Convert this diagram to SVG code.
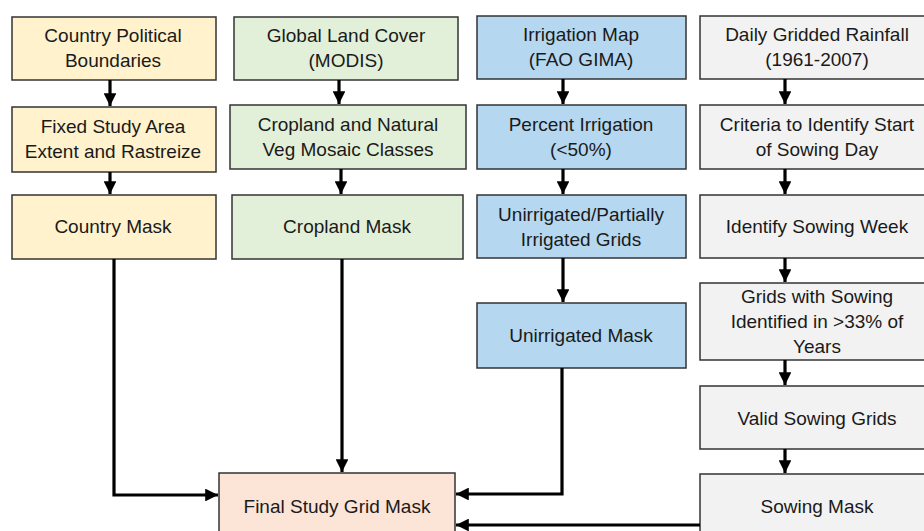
<svg xmlns="http://www.w3.org/2000/svg" width="924" height="531" viewBox="0 0 924 531">
<defs>
<style>
.box{stroke:#333;stroke-width:1.5}
.y{fill:#FFF2CC}.g{fill:#E2F0D9}.b{fill:#B5D7EF}.w{fill:#F2F2F2}.o{fill:#FCE4D6}
text{font-family:"Liberation Sans",Arial,sans-serif;font-size:19px;fill:#1a1a1a;text-anchor:middle}
.c{fill:none;stroke:#000;stroke-width:3.2}
</style>
<marker id="ah" viewBox="0 0 10 10" refX="10" refY="5" markerWidth="4" markerHeight="4" markerUnits="strokeWidth" orient="auto">
<path d="M0,0 L10,5 L0,10 z" fill="#000"/>
</marker>
</defs>
<rect width="924" height="531" fill="#fff"/>
<g id="n1"><rect class="box y" x="12" y="17" width="204" height="63"/><text x="113" y="42">Country Political</text><text x="113" y="67">Boundaries</text></g>
<g id="n2"><rect class="box y" x="12" y="107" width="204" height="65"/><text x="113" y="133">Fixed Study Area</text><text x="113" y="158">Extent and Rastreize</text></g>
<g id="n3"><rect class="box y" x="12" y="195" width="204" height="64"/><text x="113" y="233">Country Mask</text></g>
<g id="n4"><rect class="box g" x="234" y="17" width="224" height="63"/><text x="346" y="42">Global Land Cover</text><text x="346" y="67">(MODIS)</text></g>
<g id="n5"><rect class="box g" x="230" y="105" width="236" height="64"/><text x="348" y="131">Cropland and Natural</text><text x="348" y="156">Veg Mosaic Classes</text></g>
<g id="n6"><rect class="box g" x="232" y="195" width="231" height="64"/><text x="347" y="233">Cropland Mask</text></g>
<g id="n7"><rect class="box b" x="477" y="16" width="209" height="63"/><text x="581" y="41">Irrigation Map</text><text x="581" y="66">(FAO GIMA)</text></g>
<g id="n8"><rect class="box b" x="477" y="105" width="209" height="64"/><text x="581" y="131">Percent Irrigation</text><text x="581" y="156">(&lt;50%)</text></g>
<g id="n9"><rect class="box b" x="477" y="195" width="209" height="63"/><text x="581" y="221">Unirrigated/Partially</text><text x="581" y="246">Irrigated Grids</text></g>
<g id="n10"><rect class="box b" x="477" y="303" width="209" height="65"/><text x="581" y="342">Unirrigated Mask</text></g>
<g id="n11"><rect class="box w" x="700" y="16" width="240" height="63"/><text x="817" y="41">Daily Gridded Rainfall</text><text x="817" y="66">(1961-2007)</text></g>
<g id="n12"><rect class="box w" x="700" y="105" width="240" height="64"/><text x="817" y="131">Criteria to Identify Start</text><text x="817" y="156">of Sowing Day</text></g>
<g id="n13"><rect class="box w" x="700" y="195" width="240" height="63"/><text x="817" y="233">Identify Sowing Week</text></g>
<g id="n14"><rect class="box w" x="700" y="283" width="240" height="77"/><text x="817" y="303">Grids with Sowing</text><text x="817" y="328">Identified in &gt;33% of</text><text x="817" y="353">Years</text></g>
<g id="n15"><rect class="box w" x="700" y="386" width="240" height="63"/><text x="817" y="425">Valid Sowing Grids</text></g>
<g id="n16"><rect class="box w" x="700" y="474" width="240" height="70"/><text x="817" y="513">Sowing Mask</text></g>
<g id="n17"><rect class="box o" x="219" y="473" width="236" height="70"/><text x="337" y="513">Final Study Grid Mask</text></g>
<g id="connectors">
<path class="c" d="M110,80 V106" marker-end="url(#ah)"/>
<path class="c" d="M110,172 V194" marker-end="url(#ah)"/>
<path class="c" d="M339,80 V104" marker-end="url(#ah)"/>
<path class="c" d="M341,169 V194" marker-end="url(#ah)"/>
<path class="c" d="M563,79 V104" marker-end="url(#ah)"/>
<path class="c" d="M563,169 V194" marker-end="url(#ah)"/>
<path class="c" d="M563,258 V302" marker-end="url(#ah)"/>
<path class="c" d="M785,79 V104" marker-end="url(#ah)"/>
<path class="c" d="M785,169 V194" marker-end="url(#ah)"/>
<path class="c" d="M785,258 V282" marker-end="url(#ah)"/>
<path class="c" d="M785,360 V385" marker-end="url(#ah)"/>
<path class="c" d="M785,449 V473" marker-end="url(#ah)"/>
<path class="c" d="M114,259 V495 H218" marker-end="url(#ah)"/>
<path class="c" d="M342,259 V472" marker-end="url(#ah)"/>
<path class="c" d="M562,368 V494 H456" marker-end="url(#ah)"/>
<path class="c" d="M700,525 H456" marker-end="url(#ah)"/>
</g>
</svg>
